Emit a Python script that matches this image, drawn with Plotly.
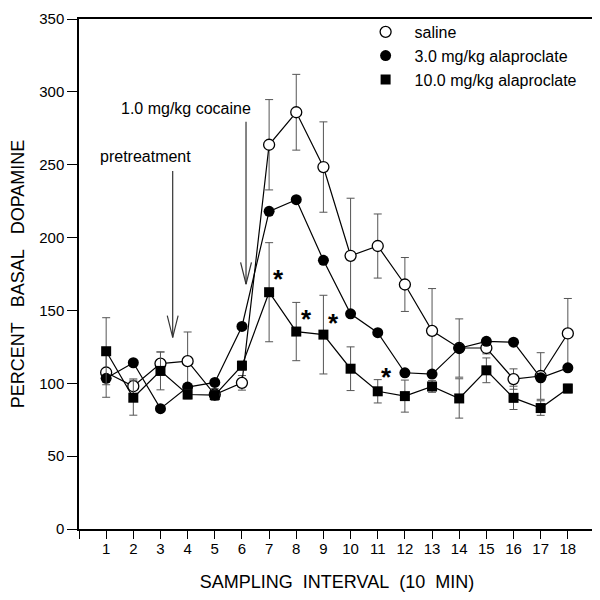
import plotly.graph_objects as go

# ---------------- data ----------------
intervals = list(range(1, 19))
x_tick_vals = list(range(0, 20))
x_tick_text = [""] + [str(i) for i in range(1, 19)] + [""]
y_tick_vals = [0, 50, 100, 150, 200, 250, 300, 350]

saline = [107.4, 98.0, 113.5, 115.2, 92.3, 100.3, 263.7, 286.0, 248.4, 187.5,
          194.2, 167.8, 136.0, 124.2, 124.2, 102.9, 105.0, 134.2]
saline_err = [17, 5, 8, 20, 4, 5, 31, 26, 31, 39.5, 22, 18.5, 29, 20, 4, 7, 16, 24]

ala3 = [103.4, 114.1, 82.6, 97.4, 100.6, 139.0, 218.0, 226.0, 184.4, 147.7,
        134.7, 107.2, 106.3, 124.1, 128.8, 128.2, 103.8, 110.6]

ala10 = [122.0, 90.1, 108.5, 92.3, 91.9, 112.1, 162.5, 135.5, 133.4, 110.0,
         94.5, 91.2, 97.8, 89.6, 108.9, 90.0, 83.0, 96.4]
ala10_err = [23, 12, 13, 3, 3, 3, 34, 20, 27, 15, 8, 11, 4, 13.5, 8.5, 8, 5, 3]

series_names = ["saline", "3.0 mg/kg alaproclate", "10.0 mg/kg alaproclate"]

star_x = [7.35, 8.39, 9.37, 11.33]
star_y = [172, 145, 142.4, 104.7]

pre_arrow = {"x": 3.45, "top": 245.7, "tip": 131.5, "label": "pretreatment",
             "lx": 2.46, "ly": 255.5}
coc_arrow = {"x": 6.15, "top": 279.4, "tip": 168.0, "label": "1.0 mg/kg cocaine",
             "lx": 3.95, "ly": 288.3}

# ---------------- styles ----------------
FONT = "Arial, Liberation Sans, Helvetica, sans-serif"
INK = "black"
ERR = "#555555"

fig = go.Figure()

marker_open = dict(symbol="circle", size=11, color="white", line=dict(color=INK, width=1.3))
marker_fill = dict(symbol="circle", size=11, color=INK, line=dict(color=INK, width=0))
marker_sq = dict(symbol="square", size=10, color=INK, line=dict(color=INK, width=0))

fig.add_trace(go.Scatter(
    x=intervals, y=saline, mode="lines+markers", showlegend=False,
    line=dict(color=INK, width=1.2), marker=marker_open,
    error_y=dict(type="data", array=saline_err, visible=True, color=ERR, thickness=1, width=4),
))
fig.add_trace(go.Scatter(
    x=intervals, y=ala3, mode="lines+markers", showlegend=False,
    line=dict(color=INK, width=1.2), marker=marker_fill,
))
fig.add_trace(go.Scatter(
    x=intervals, y=ala10, mode="lines+markers", showlegend=False,
    line=dict(color=INK, width=1.2), marker=marker_sq,
    error_y=dict(type="data", array=ala10_err, visible=True, color=ERR, thickness=1, width=4),
))

# legend-only entries (markers without lines)
for name, mk in zip(series_names, [marker_open, marker_fill, marker_sq]):
    fig.add_trace(go.Scatter(x=[None], y=[None], mode="markers", name=name, marker=mk))

# arrows
shapes = []
HEAD_LEN = 15
HEAD_HALF = 0.2
for a in (pre_arrow, coc_arrow):
    shapes.append(dict(type="line", xref="x", yref="y", x0=a["x"], x1=a["x"],
                       y0=a["top"], y1=a["tip"], line=dict(color="#333", width=1.2)))
    for s in (-1, 1):
        shapes.append(dict(type="line", xref="x", yref="y", x0=a["x"] + s * HEAD_HALF,
                           x1=a["x"], y0=a["tip"] + HEAD_LEN, y1=a["tip"],
                           line=dict(color="#333", width=1.2)))

annotations = []
for a in (pre_arrow, coc_arrow):
    annotations.append(dict(x=a["lx"], y=a["ly"], xref="x", yref="y", text=a["label"],
                            showarrow=False, font=dict(family=FONT, size=16, color=INK)))
for sx, sy in zip(star_x, star_y):
    annotations.append(dict(x=sx, y=sy, xref="x", yref="y", text="<b>*</b>", showarrow=False,
                            yshift=-1, font=dict(family=FONT, size=26, color=INK)))

# the page body adds an 8px offset, so margins are set to compensate
fig.update_layout(
    width=600, height=600,
    margin=dict(l=71, r=13, t=7, b=79),
    paper_bgcolor="white", plot_bgcolor="white",
    font=dict(family=FONT, size=15, color=INK),
    shapes=shapes, annotations=annotations,
    legend=dict(x=0.538, y=1.008, xanchor="left", yanchor="top", itemwidth=48,
                font=dict(family=FONT, size=16, color=INK), bgcolor="rgba(0,0,0,0)"),
    xaxis=dict(range=[0, 19], tickvals=x_tick_vals, ticktext=x_tick_text, automargin=False,
               showgrid=False, zeroline=False, showline=True, mirror=True,
               linecolor=INK, linewidth=1.5, ticks="outside", ticklen=8, tickwidth=1.2,
               tickcolor=INK, tickfont=dict(size=15), ticklabelstandoff=-3,
               ticklabeloverflow="allow",
               title=dict(text="SAMPLING\u00a0\u00a0INTERVAL\u00a0\u00a0(10\u00a0\u00a0MIN)",
                          font=dict(size=18), standoff=20)),
    yaxis=dict(range=[0, 350], tickvals=y_tick_vals, automargin=False,
               showgrid=False, zeroline=False, showline=True, mirror=True,
               linecolor=INK, linewidth=1.5, ticks="outside", ticklen=10, tickwidth=1.2,
               tickcolor=INK, tickfont=dict(size=15), ticklabelstandoff=0,
               ticklabeloverflow="allow",
               title=dict(text="PERCENT\u00a0\u00a0\u00a0BASAL\u00a0\u00a0\u00a0DOPAMINE",
                          font=dict(size=18), standoff=10)),
)

fig.write_html("out.html")
